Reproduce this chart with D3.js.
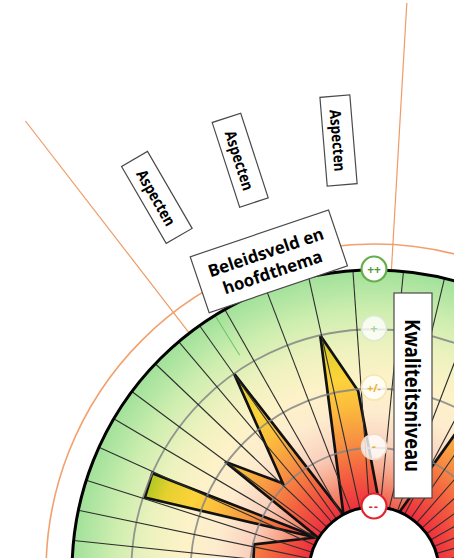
<!DOCTYPE html>
<html><head><meta charset="utf-8">
<script src="https://cdn.jsdelivr.net/npm/d3@7"></script>
<style>html,body{margin:0;padding:0;background:#fff;overflow:hidden}svg{display:block}</style>
</head><body>
<svg id="c" width="454" height="558"></svg>
<script>
// ---- data ----
const levelLabels = ["--", "-", "+/-", "+", "++"];
const levelValues = [0, 1, 2, 3, 4];
const spokeAngles = [-90, -84, -78.2, -72.3, -65.6, -59.5, -53.3, -46.4, -40.3, -35.3, -29.6, -20.9, -12.5, -4.0,
  5.6, 13.5, 21, 28, 34.5, 41, 47.5, 54, 60.5, 67, 73.5, 80, 86.5];
const shapeAngles = [5.3, -5, -12.8, -28, -35.2, -45.8, -53.5, -58.5, -66, -72, -59.5, -77, -92, -140, 160, 110, 80, 62, 50, 42, 32, 23, 14];
const shapeValues = [0, 1.97, 3.0, 0, 3.0, 1.05, 2.03, 0, 3.0, 2.97, 0.05, 0.98, 0.95, 0.6, 0.5, 0.7, 0.9, 0.6, 1.9, 1.6, 2.8, 0, 0];
const sectorBounds = [-37.7, 3.3];
const sectorLabel = ["Beleidsveld en", "hoofdthema"];
const sectorLabelAngle = -18.7;
const aspectLabels = ["Aspecten", "Aspecten", "Aspecten"];
const aspectAngles = [-30.1, -18.0, -4.7];
const axisTitle = "Kwaliteitsniveau";

// ---- layout ----
const cx = 374, cy = 572;
const rIn = 65, rOut = 302, rOrange = 328, rAspect = 433, rLineEnd = 570;
const svg = d3.select("#c");
const rad = d3.scaleLinear().domain([0, 4]).range([rIn, rOut]);
const toRad = d => d * Math.PI / 180;
const pt = (deg, rr) => [cx + rr * Math.sin(toRad(deg)), cy - rr * Math.cos(toRad(deg))];

const defs = svg.append("defs");
function radialGrad(id, x0, y0, stops) {
  const gr = defs.append("radialGradient").attr("id", id).attr("gradientUnits", "userSpaceOnUse")
    .attr("cx", x0).attr("cy", y0).attr("fx", x0).attr("fy", y0).attr("r", rOut);
  stops.forEach(([rr, c]) => gr.append("stop").attr("offset", rr / rOut).attr("stop-color", c));
}
radialGrad("bg", cx, cy, [[65, "#ef5a50"], [82, "#f37d66"], [102, "#f7a88e"], [127, "#fad2be"], [160, "#fdecce"],
  [192, "#fdf2c8"], [225, "#eef2bf"], [260, "#cfeeb0"], [302, "#a0e19a"]]);
radialGrad("fg", 0, 0, [[65, "#ee2f3e"], [98, "#f45c40"], [135, "#f79442"], [168, "#fbbd3c"], [195, "#fcd33a"],
  [222, "#e6d030"], [245, "#a6c820"], [302, "#6cbc28"]]);

const g = svg.append("g");

// orange frame
g.append("circle").attr("cx", cx).attr("cy", cy).attr("r", rOrange)
  .attr("fill", "none").attr("stroke", "#f2a16e").attr("stroke-width", 1.6);
sectorBounds.forEach(a => {
  const p1 = pt(a, rOut), p2 = pt(a, rLineEnd);
  g.append("line").attr("x1", p1[0]).attr("y1", p1[1]).attr("x2", p2[0]).attr("y2", p2[1])
    .attr("stroke", "#f09a66").attr("stroke-width", 1.2);
});

// background disc
g.append("circle").attr("cx", cx).attr("cy", cy).attr("r", rOut).attr("fill", "url(#bg)");

// shape fill
const shapeData = shapeAngles.map((a, i) => ({ a, v: shapeValues[i] }));
const line = d3.lineRadial().angle(d => toRad(d.a)).radius(d => rad(d.v)).curve(d3.curveLinearClosed);
const shapeG = g.append("g").attr("transform", `translate(${cx},${cy})`);
shapeG.append("path").attr("d", line(shapeData)).attr("fill", "url(#fg)").attr("stroke", "none");

// rings
g.selectAll(".ring").data([1, 2, 3]).join("circle").attr("class", "ring")
  .attr("cx", cx).attr("cy", cy).attr("r", d => rad(d))
  .attr("fill", "none").attr("stroke", "#858585").attr("stroke-width", 1.8).attr("opacity", 0.85);

// spokes
g.selectAll(".spoke").data(spokeAngles).join("line").attr("class", "spoke")
  .attr("x1", d => pt(d, rad(0))[0]).attr("y1", d => pt(d, rad(0))[1])
  .attr("x2", d => pt(d, rad(4))[0]).attr("y2", d => pt(d, rad(4))[1])
  .attr("stroke", "#2e2e2e").attr("stroke-width", 1.1);
{
  const p1 = pt(-31.8, 255), p2 = pt(-31.8, rOut);
  g.append("line").attr("x1", p1[0]).attr("y1", p1[1]).attr("x2", p2[0]).attr("y2", p2[1])
    .attr("stroke", "#5cbf5c").attr("stroke-width", 1.1).attr("opacity", 0.8);
}

// shape outline
shapeG.append("path").attr("d", line(shapeData)).attr("fill", "none")
  .attr("stroke", "#111").attr("stroke-width", 2.7).attr("stroke-linejoin", "miter");

// outer and inner circles
g.append("circle").attr("cx", cx).attr("cy", cy).attr("r", rOut)
  .attr("fill", "none").attr("stroke", "#000").attr("stroke-width", 3);
g.append("circle").attr("cx", cx).attr("cy", cy).attr("r", rIn)
  .attr("fill", "#fff").attr("stroke", "#000").attr("stroke-width", 3);

// level markers
const markerStyle = [
  { fill: "#fff", fo: 1, stroke: "#e2232c", sw: 2.2, tc: "#e2232c" },
  { fill: "#fff", fo: 0.8, stroke: "#f3d9c4", sw: 1.6, tc: "#e5b52a" },
  { fill: "#fff", fo: 0.8, stroke: "#f6e6b0", sw: 1.6, tc: "#e5b22a" },
  { fill: "#fff", fo: 0.8, stroke: "#dbe9d2", sw: 1.6, tc: "#a9d3a0" },
  { fill: "#fff", fo: 1, stroke: "#64ad4a", sw: 2.2, tc: "#4e9a36" }
];
const mk = g.selectAll(".mk").data(levelValues).join("g").attr("class", "mk")
  .attr("transform", d => `translate(${pt(0, rad(d))[0]},${pt(0, rad(d))[1] - 1})`);
mk.append("circle").attr("r", 12.5)
  .attr("fill", (d, i) => markerStyle[i].fill).attr("fill-opacity", (d, i) => markerStyle[i].fo)
  .attr("stroke", (d, i) => markerStyle[i].stroke).attr("stroke-width", (d, i) => markerStyle[i].sw);
mk.append("text").text((d, i) => levelLabels[i])
  .attr("text-anchor", "middle").attr("dominant-baseline", "central")
  .attr("font-family", "'Open Sans', sans-serif").attr("font-weight", "bold")
  .attr("font-size", (d, i) => i === 2 ? 10.5 : 12).attr("letter-spacing", (d, i) => i === 0 ? 1.5 : 0)
  .attr("fill", (d, i) => markerStyle[i].tc);

// label helpers
const FONT = "'Open Sans', 'Noto Sans', sans-serif";
function squeeze(t, target) {
  const len = t.node().getComputedTextLength();
  const k = target / len;
  t.attr("textLength", target).attr("lengthAdjust", "spacingAndGlyphs");
  return k;
}

// Kwaliteitsniveau
{
  const kg = g.append("g").attr("transform", "translate(413,395.5) rotate(90)");
  kg.append("rect").attr("x", -102.5).attr("y", -19).attr("width", 205).attr("height", 38)
    .attr("fill", "#fff").attr("stroke", "#4a4a4a").attr("stroke-width", 1.2);
  const t = kg.append("text").text(axisTitle).attr("text-anchor", "middle").attr("dominant-baseline", "central")
    .attr("y", 0.5).attr("font-family", FONT).attr("font-weight", "bold").attr("font-size", 21).attr("fill", "#000");
  squeeze(t, 153);
}

// Beleidsveld box
{
  const c = pt(sectorLabelAngle, rOrange);
  const bg = g.append("g").attr("transform", `translate(${c[0]},${c[1]}) rotate(${sectorLabelAngle})`);
  bg.append("rect").attr("x", -73).attr("y", -29.5).attr("width", 146).attr("height", 59)
    .attr("fill", "#fff").attr("stroke", "#4a4a4a").attr("stroke-width", 1.2);
  const t1 = bg.append("text").text(sectorLabel[0]).attr("text-anchor", "middle").attr("dominant-baseline", "central")
    .attr("y", -10).attr("font-family", FONT).attr("font-weight", "bold").attr("font-size", 17).attr("fill", "#000");
  const k = squeeze(t1, 121);
  const t2 = bg.append("text").text(sectorLabel[1]).attr("text-anchor", "middle").attr("dominant-baseline", "central")
    .attr("y", 11).attr("font-family", FONT).attr("font-weight", "bold").attr("font-size", 17).attr("fill", "#000");
  const l2 = t2.node().getComputedTextLength();
  t2.attr("textLength", l2 * k).attr("lengthAdjust", "spacingAndGlyphs");
}

// Aspecten boxes
aspectAngles.forEach((a, i) => {
  const c = pt(a, rAspect);
  const ag = g.append("g").attr("transform", `translate(${c[0]},${c[1]}) rotate(${a + 90})`);
  ag.append("rect").attr("x", -44.5).attr("y", -15).attr("width", 89).attr("height", 30)
    .attr("fill", "#fff").attr("stroke", "#4a4a4a").attr("stroke-width", 1.2);
  const t = ag.append("text").text(aspectLabels[i]).attr("text-anchor", "middle").attr("dominant-baseline", "central")
    .attr("y", 0.5).attr("font-family", FONT).attr("font-weight", "bold").attr("font-size", 15.5).attr("fill", "#000");
  squeeze(t, 62);
});
</script>
</body></html>
